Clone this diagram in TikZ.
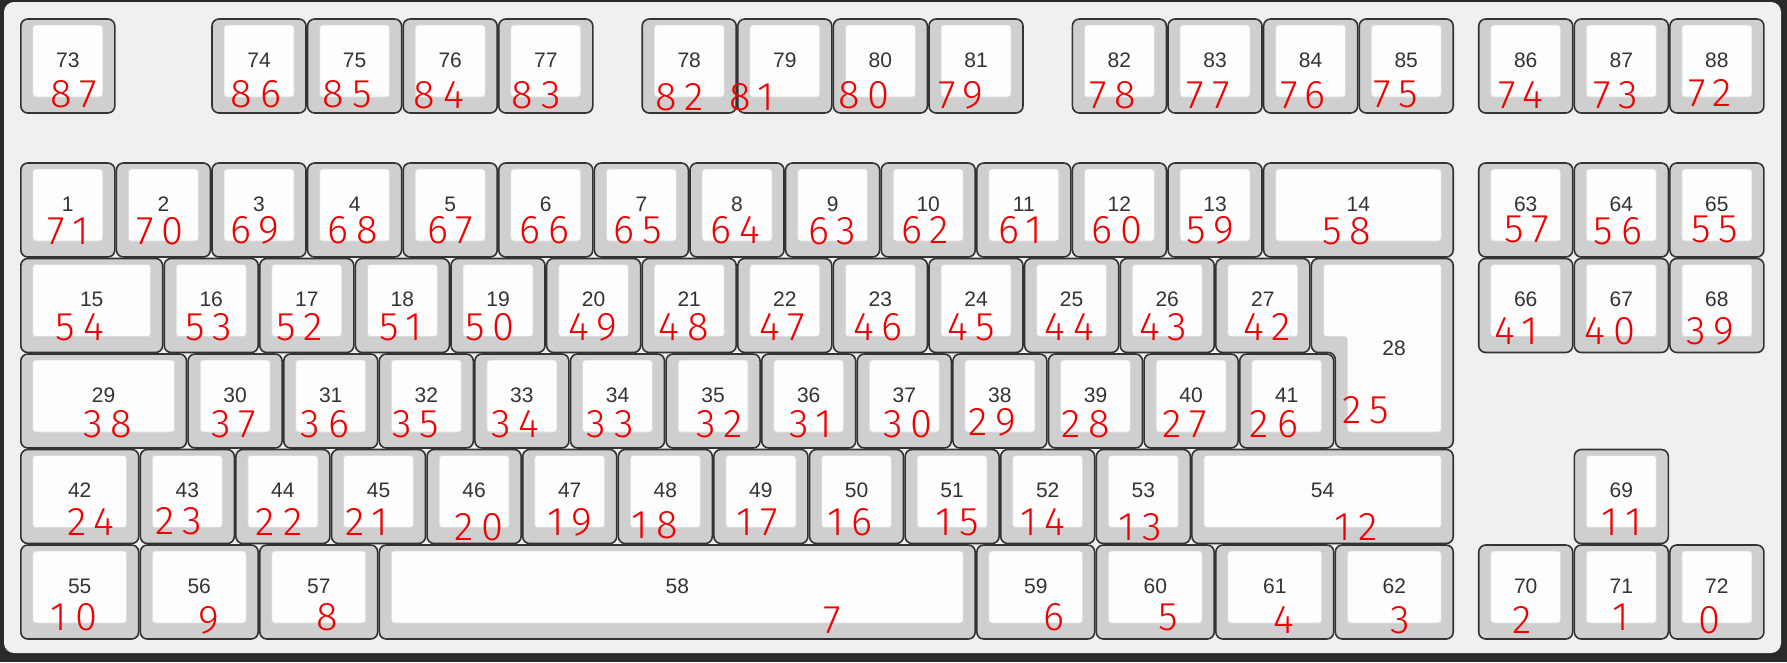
\documentclass[tikz,border=0pt]{standalone}
\usepackage{fontspec}
\setmainfont{Liberation Sans}
\newfontfamily\hand{Fira Sans Light}[LetterSpace=20]
\definecolor{framebg}{HTML}{F0F0F0}
\definecolor{framedark}{HTML}{2A2A2A}
\definecolor{keyg}{HTML}{CFCFCF}
\definecolor{keyb}{HTML}{333333}
\definecolor{keyw}{HTML}{FDFDFD}
\definecolor{inb}{HTML}{DADADA}
\definecolor{txt}{HTML}{333333}
\definecolor{ink}{HTML}{F00000}
\tikzset{
  keyout/.style={fill=keyg, draw=keyb, line width=1.6pt, rounded corners=7pt},
  keyin/.style={fill=keyw, draw=inb, line width=0.8pt, rounded corners=3pt},
  keylbl/.style={text=txt, font=\fontsize{21}{23}\selectfont, inner sep=0pt},
  hw/.style={text=ink, font=\hand\fontsize{40}{40}\selectfont, inner sep=0pt},
}
% #1 name, #2 x (units), #3 top y, #4 width (units), #5 label, #6 red label, #7 red x, #8 red y
\newcommand\kk[8]{%
  \pgfmathsetmacro\xa{20+#2*95.6+0.8}%
  \pgfmathsetmacro\xb{20+(#2+#4)*95.6-0.8}%
  \pgfmathsetmacro\ya{#3}%
  \pgfmathsetmacro\yb{#3+94}%
  \draw[keyout] (\xa,\ya) rectangle (\xb,\yb);
  \draw[keyin] (\xa+12,\ya+6) rectangle (\xb-12,\yb-16);
  \node[keylbl] (k#1) at ({(\xa+\xb)/2},\ya+41) {#5};
  \node[hw] (r#1) at (#7,#8) {#6};
}
\begin{document}
\begin{tikzpicture}[x=1pt,y=-1pt]
\useasboundingbox (0,0) rectangle (1787,662);
\fill[framedark] (0,0) rectangle (1787,662);
\fill[framebg, rounded corners=10pt] (4,2) rectangle (1781,653);
% function row
\kk{73}{0}{19}{1}{73}{87}{74}{94}
\kk{74}{2}{19}{1}{74}{86}{256}{94}
\kk{75}{3}{19}{1}{75}{85}{347}{94}
\kk{76}{4}{19}{1}{76}{84}{439}{95}
\kk{77}{5}{19}{1}{77}{83}{536}{95}
\kk{78}{6.5}{19}{1}{78}{82}{680}{97}
\kk{79}{7.5}{19}{1}{79}{81}{752}{97}
\kk{80}{8.5}{19}{1}{80}{80}{864}{95}
\kk{81}{9.5}{19}{1}{81}{79}{961}{95}
\kk{82}{11}{19}{1}{82}{78}{1113}{95}
\kk{83}{12}{19}{1}{83}{77}{1208}{95}
\kk{84}{13}{19}{1}{84}{76}{1303}{95}
\kk{85}{14}{19}{1}{85}{75}{1396}{94}
\kk{86}{15.25}{19}{1}{86}{74}{1521}{95}
\kk{87}{16.25}{19}{1}{87}{73}{1616}{95}
\kk{88}{17.25}{19}{1}{88}{72}{1710}{93}
% number row
\kk{1}{0}{163}{1}{1}{71}{68}{231}
\kk{2}{1}{163}{1}{2}{70}{160}{231}
\kk{3}{2}{163}{1}{3}{69}{255}{230}
\kk{4}{3}{163}{1}{4}{68}{353}{230}
\kk{5}{4}{163}{1}{5}{67}{450}{230}
\kk{6}{5}{163}{1}{6}{66}{544}{230}
\kk{7}{6}{163}{1}{7}{65}{638}{230}
\kk{8}{7}{163}{1}{8}{64}{735}{230}
\kk{9}{8}{163}{1}{9}{63}{832}{231}
\kk{10}{9}{163}{1}{10}{62}{925}{230}
\kk{11}{10}{163}{1}{11}{61}{1020}{230}
\kk{12}{11}{163}{1}{12}{60}{1117}{230}
\kk{13}{12}{163}{1}{13}{59}{1210}{230}
\kk{14}{13}{163}{2}{14}{58}{1347}{231}
\kk{63}{15.25}{163}{1}{63}{57}{1527}{229}
\kk{64}{16.25}{163}{1}{64}{56}{1618}{231}
\kk{65}{17.25}{163}{1}{65}{55}{1715}{229}
% row 2
\kk{15}{0}{258.5}{1.5}{15}{54}{80}{327}
\kk{16}{1.5}{258.5}{1}{16}{53}{209}{327}
\kk{17}{2.5}{258.5}{1}{17}{52}{300}{327}
\kk{18}{3.5}{258.5}{1}{18}{51}{401}{327}
\kk{19}{4.5}{258.5}{1}{19}{50}{490}{327}
\kk{20}{5.5}{258.5}{1}{20}{49}{593}{327}
\kk{21}{6.5}{258.5}{1}{21}{48}{684}{327}
\kk{22}{7.5}{258.5}{1}{22}{47}{782}{327}
\kk{23}{8.5}{258.5}{1}{23}{46}{878}{327}
\kk{24}{9.5}{258.5}{1}{24}{45}{971}{327}
\kk{25}{10.5}{258.5}{1}{25}{44}{1069}{327}
\kk{26}{11.5}{258.5}{1}{26}{43}{1163}{327}
\kk{27}{12.5}{258.5}{1}{27}{42}{1267}{327}
\kk{66}{15.25}{258.5}{1}{66}{41}{1516}{331}
\kk{67}{16.25}{258.5}{1}{67}{40}{1610}{331}
\kk{68}{17.25}{258.5}{1}{68}{39}{1710}{331}
% ISO enter (key 28)
\draw[keyout] (1311.4,258.5) -- (1453.2,258.5) -- (1453.2,448) -- (1335.3,448) -- (1335.3,352.5) -- (1311.4,352.5) -- cycle;
\draw[keyin] (1323.4,264.5) -- (1441.2,264.5) -- (1441.2,432) -- (1347.3,432) -- (1347.3,336.5) -- (1323.4,336.5) -- cycle;
\node[keylbl] (k28) at (1394,348) {28};
\node[hw] (r28) at (1366,410) {25};
% row 3
\kk{29}{0}{354}{1.75}{29}{38}{108}{424}
\kk{30}{1.75}{354}{1}{30}{37}{234}{424}
\kk{31}{2.75}{354}{1}{31}{36}{325}{424}
\kk{32}{3.75}{354}{1}{32}{35}{416}{424}
\kk{33}{4.75}{354}{1}{33}{34}{515}{424}
\kk{34}{5.75}{354}{1}{34}{33}{610}{424}
\kk{35}{6.75}{354}{1}{35}{32}{720}{424}
\kk{36}{7.75}{354}{1}{36}{31}{811}{424}
\kk{37}{8.75}{354}{1}{37}{30}{908}{424}
\kk{38}{9.75}{354}{1}{38}{29}{992}{422}
\kk{39}{10.75}{354}{1}{39}{28}{1086}{424}
\kk{40}{11.75}{354}{1}{40}{27}{1185}{424}
\kk{41}{12.75}{354}{1}{41}{26}{1274}{424}
% row 4
\kk{42}{0}{449.5}{1.25}{42}{24}{91}{522}
\kk{43}{1.25}{449.5}{1}{43}{23}{179}{521}
\kk{44}{2.25}{449.5}{1}{44}{22}{279}{522}
\kk{45}{3.25}{449.5}{1}{45}{21}{367}{522}
\kk{46}{4.25}{449.5}{1}{46}{20}{479}{527}
\kk{47}{5.25}{449.5}{1}{47}{19}{570}{522}
\kk{48}{6.25}{449.5}{1}{48}{18}{655}{525}
\kk{49}{7.25}{449.5}{1}{49}{17}{757}{522}
\kk{50}{8.25}{449.5}{1}{50}{16}{850}{522}
\kk{51}{9.25}{449.5}{1}{51}{15}{957}{522}
\kk{52}{10.25}{449.5}{1}{52}{14}{1043}{522}
\kk{53}{11.25}{449.5}{1}{53}{13}{1140}{527}
\kk{54}{12.25}{449.5}{2.75}{54}{12}{1356}{527}
\kk{69}{16.25}{449.5}{1}{69}{11}{1622}{522}
% bottom row
\kk{55}{0}{545}{1.25}{55}{10}{74}{617}
\kk{56}{1.25}{545}{1.25}{56}{9}{209}{620}
\kk{57}{2.5}{545}{1.25}{57}{8}{327}{617}
\kk{58}{3.75}{545}{6.25}{58}{7}{832}{620}
\kk{59}{10}{545}{1.25}{59}{6}{1054}{617}
\kk{60}{11.25}{545}{1.25}{60}{5}{1168}{617}
\kk{61}{12.5}{545}{1.25}{61}{4}{1284}{620}
\kk{62}{13.75}{545}{1.25}{62}{3}{1400}{620}
\kk{70}{15.25}{545}{1}{70}{2}{1522}{620}
\kk{71}{16.25}{545}{1}{71}{1}{1621}{617}
\kk{72}{17.25}{545}{1}{72}{0}{1709}{620}
\end{tikzpicture}
\end{document}
